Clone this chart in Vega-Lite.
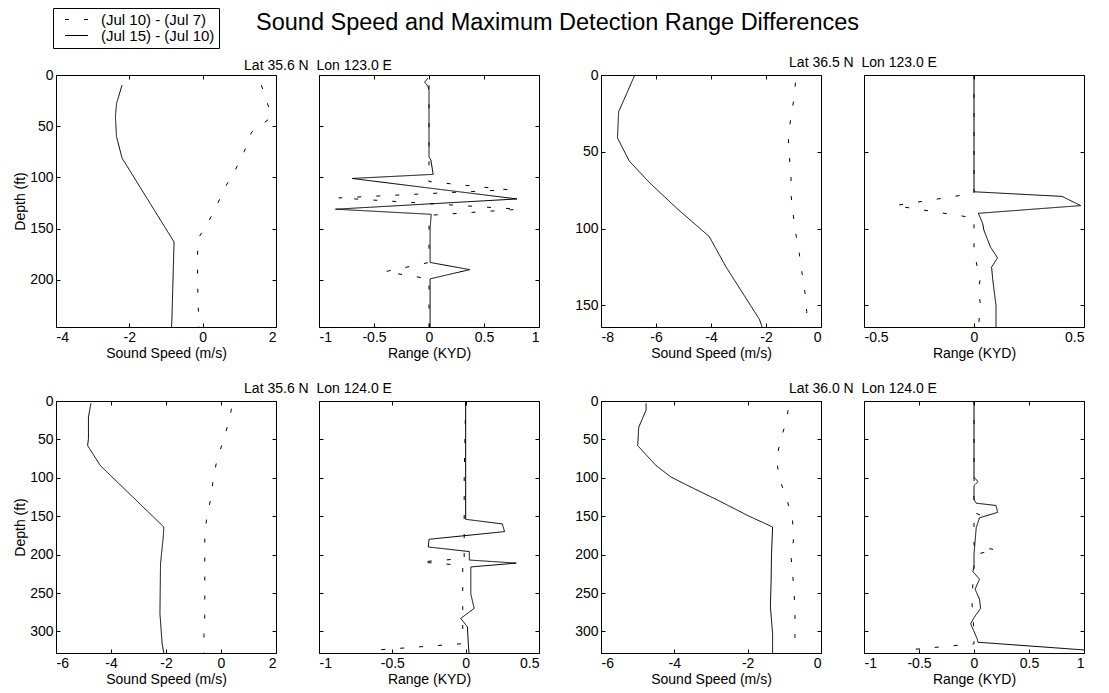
{
  "$schema": "https://vega.github.io/schema/vega-lite/v6.json",
  "autosize": {"type": "pad"},
  "padding": {"left": 13, "top": 7, "right": 5, "bottom": 5},
  "background": "white",
  "config": {
    "font": "Liberation Sans",
    "view": {"stroke": "black", "strokeWidth": 1},
    "axis": {"domain": false, "grid": false, "ticks": true, "tickSize": -4, "tickColor": "black", "labelColor": "black", "labelFontSize": 14, "labelPadding": 7, "titleFontSize": 14, "titleFontWeight": "normal", "titleColor": "black", "titlePadding": 2, "labelExpr": "'' + datum.value"},
    "title": {"fontWeight": "normal", "color": "black"}
  },
  "title": {"text": "Sound Speed and Maximum Detection Range Differences", "anchor": "start", "frame": "group", "dx": 200, "dy": 27, "fontSize": 23.5, "fontWeight": "normal", "offset": 0},
  "datasets": {
    "d": [
      {"p":1,"s":"B","v":-2.20,"d":10},{"p":1,"s":"B","v":-2.35,"d":28},{"p":1,"s":"B","v":-2.38,"d":41},{"p":1,"s":"B","v":-2.35,"d":60},{"p":1,"s":"B","v":-2.20,"d":81},{"p":1,"s":"B","v":-0.78,"d":163},{"p":1,"s":"B","v":-0.80,"d":188},{"p":1,"s":"B","v":-0.84,"d":240},{"p":1,"s":"B","v":-0.85,"d":246},
      {"p":1,"s":"A","v":1.60,"d":10},{"p":1,"s":"A","v":1.72,"d":22},{"p":1,"s":"A","v":1.88,"d":41},{"p":1,"s":"A","v":1.33,"d":56},{"p":1,"s":"A","v":1.13,"d":75},{"p":1,"s":"A","v":0.90,"d":92},{"p":1,"s":"A","v":0.64,"d":108},{"p":1,"s":"A","v":0.40,"d":126},{"p":1,"s":"A","v":0.15,"d":144},{"p":1,"s":"A","v":-0.13,"d":160},{"p":1,"s":"A","v":-0.14,"d":178},{"p":1,"s":"A","v":-0.14,"d":190},{"p":1,"s":"A","v":-0.13,"d":217},{"p":1,"s":"A","v":-0.11,"d":237},{"p":1,"s":"A","v":-0.10,"d":246},
      {"p":2,"s":"B","v":-0.01,"d":3},{"p":2,"s":"B","v":-0.04,"d":7},{"p":2,"s":"B","v":-0.01,"d":11},{"p":2,"s":"B","v":0,"d":15},{"p":2,"s":"B","v":0,"d":80},{"p":2,"s":"B","v":0.017,"d":83},{"p":2,"s":"B","v":0.038,"d":97},{"p":2,"s":"B","v":-0.70,"d":101},{"p":2,"s":"B","v":0.80,"d":121},{"p":2,"s":"B","v":-0.85,"d":131},{"p":2,"s":"B","v":0.02,"d":136},{"p":2,"s":"B","v":0.01,"d":150},{"p":2,"s":"B","v":0.01,"d":183},{"p":2,"s":"B","v":0.37,"d":190},{"p":2,"s":"B","v":0.01,"d":199},{"p":2,"s":"B","v":0.01,"d":246},
      {"p":2,"s":"A","v":0,"d":10},{"p":2,"s":"A","v":0,"d":104},{"p":2,"s":"A","v":0.72,"d":112},{"p":2,"s":"A","v":-0.82,"d":120},{"p":2,"s":"A","v":0.82,"d":131},{"p":2,"s":"A","v":0,"d":137},{"p":2,"s":"A","v":0,"d":183},{"p":2,"s":"A","v":-0.40,"d":192},{"p":2,"s":"A","v":0,"d":199},{"p":2,"s":"A","v":0,"d":246},
      {"p":3,"s":"B","v":-6.77,"d":0},{"p":3,"s":"B","v":-7.36,"d":24},{"p":3,"s":"B","v":-7.40,"d":41},{"p":3,"s":"B","v":-6.97,"d":56},{"p":3,"s":"B","v":-6.24,"d":70},{"p":3,"s":"B","v":-5.23,"d":87},{"p":3,"s":"B","v":-4.07,"d":105},{"p":3,"s":"B","v":-3.45,"d":125},{"p":3,"s":"B","v":-2.24,"d":159},{"p":3,"s":"B","v":-2.14,"d":164},
      {"p":3,"s":"A","v":-0.93,"d":5},{"p":3,"s":"A","v":-0.97,"d":14},{"p":3,"s":"A","v":-1.09,"d":27},{"p":3,"s":"A","v":-1.19,"d":40},{"p":3,"s":"A","v":-1.15,"d":53},{"p":3,"s":"A","v":-1.09,"d":66},{"p":3,"s":"A","v":-1.09,"d":78},{"p":3,"s":"A","v":-1.01,"d":91},{"p":3,"s":"A","v":-0.91,"d":104},{"p":3,"s":"A","v":-0.79,"d":116},{"p":3,"s":"A","v":-0.69,"d":129},{"p":3,"s":"A","v":-0.58,"d":142},{"p":3,"s":"A","v":-0.52,"d":154},{"p":3,"s":"A","v":-0.50,"d":164},
      {"p":4,"s":"B","v":0,"d":0},{"p":4,"s":"B","v":0,"d":76},{"p":4,"s":"B","v":0.40,"d":79},{"p":4,"s":"B","v":0.485,"d":85},{"p":4,"s":"B","v":0.02,"d":90},{"p":4,"s":"B","v":0.04,"d":97},{"p":4,"s":"B","v":0.045,"d":101},{"p":4,"s":"B","v":0.075,"d":112},{"p":4,"s":"B","v":0.107,"d":119},{"p":4,"s":"B","v":0.08,"d":125},{"p":4,"s":"B","v":0.085,"d":133},{"p":4,"s":"B","v":0.10,"d":150},{"p":4,"s":"B","v":0.10,"d":164},
      {"p":4,"s":"A","v":0,"d":0},{"p":4,"s":"A","v":0,"d":77},{"p":4,"s":"A","v":-0.36,"d":85},{"p":4,"s":"A","v":0,"d":93},{"p":4,"s":"A","v":0,"d":115},{"p":4,"s":"A","v":0.015,"d":125},{"p":4,"s":"A","v":0.03,"d":131},{"p":4,"s":"A","v":0.02,"d":140},{"p":4,"s":"A","v":0.03,"d":150},{"p":4,"s":"A","v":0.02,"d":164},
      {"p":5,"s":"B","v":-4.73,"d":3},{"p":5,"s":"B","v":-4.82,"d":21},{"p":5,"s":"B","v":-4.82,"d":49},{"p":5,"s":"B","v":-4.85,"d":58},{"p":5,"s":"B","v":-4.39,"d":84},{"p":5,"s":"B","v":-2.08,"d":164},{"p":5,"s":"B","v":-2.10,"d":177},{"p":5,"s":"B","v":-2.20,"d":212},{"p":5,"s":"B","v":-2.22,"d":277},{"p":5,"s":"B","v":-2.14,"d":316},{"p":5,"s":"B","v":-2.08,"d":328},
      {"p":5,"s":"A","v":0.38,"d":10},{"p":5,"s":"A","v":0.30,"d":25},{"p":5,"s":"A","v":0.09,"d":51},{"p":5,"s":"A","v":-0.15,"d":77},{"p":5,"s":"A","v":-0.28,"d":101},{"p":5,"s":"A","v":-0.37,"d":127},{"p":5,"s":"A","v":-0.52,"d":151},{"p":5,"s":"A","v":-0.59,"d":177},{"p":5,"s":"A","v":-0.59,"d":201},{"p":5,"s":"A","v":-0.59,"d":229},{"p":5,"s":"A","v":-0.59,"d":255},{"p":5,"s":"A","v":-0.59,"d":279},{"p":5,"s":"A","v":-0.62,"d":305},{"p":5,"s":"A","v":-0.62,"d":328},
      {"p":6,"s":"B","v":0,"d":0},{"p":6,"s":"B","v":0,"d":154},{"p":6,"s":"B","v":0.25,"d":160},{"p":6,"s":"B","v":0.265,"d":170},{"p":6,"s":"B","v":-0.25,"d":180},{"p":6,"s":"B","v":-0.255,"d":190},{"p":6,"s":"B","v":0.025,"d":196},{"p":6,"s":"B","v":0.025,"d":207},{"p":6,"s":"B","v":0.345,"d":211},{"p":6,"s":"B","v":0.035,"d":216},{"p":6,"s":"B","v":0.035,"d":251},{"p":6,"s":"B","v":0.058,"d":270},{"p":6,"s":"B","v":-0.034,"d":283},{"p":6,"s":"B","v":0.012,"d":294},{"p":6,"s":"B","v":0.019,"d":320},{"p":6,"s":"B","v":0.023,"d":328},
      {"p":6,"s":"A","v":0,"d":0},{"p":6,"s":"A","v":-0.01,"d":100},{"p":6,"s":"A","v":-0.01,"d":205},{"p":6,"s":"A","v":-0.31,"d":209.5},{"p":6,"s":"A","v":-0.02,"d":214},{"p":6,"s":"A","v":-0.02,"d":300},{"p":6,"s":"A","v":-0.03,"d":316},{"p":6,"s":"A","v":-0.60,"d":324},{"p":6,"s":"A","v":-0.65,"d":328},
      {"p":7,"s":"B","v":-4.77,"d":3},{"p":7,"s":"B","v":-4.77,"d":12},{"p":7,"s":"B","v":-4.97,"d":34},{"p":7,"s":"B","v":-5.00,"d":58},{"p":7,"s":"B","v":-4.50,"d":84},{"p":7,"s":"B","v":-4.09,"d":99},{"p":7,"s":"B","v":-3.55,"d":112},{"p":7,"s":"B","v":-2.82,"d":129},{"p":7,"s":"B","v":-2.00,"d":149},{"p":7,"s":"B","v":-1.32,"d":164},{"p":7,"s":"B","v":-1.35,"d":200},{"p":7,"s":"B","v":-1.36,"d":233},{"p":7,"s":"B","v":-1.38,"d":268},{"p":7,"s":"B","v":-1.32,"d":303},{"p":7,"s":"B","v":-1.32,"d":328},
      {"p":7,"s":"A","v":-0.90,"d":12},{"p":7,"s":"A","v":-0.93,"d":25},{"p":7,"s":"A","v":-1.11,"d":51},{"p":7,"s":"A","v":-1.21,"d":76},{"p":7,"s":"A","v":-1.14,"d":101},{"p":7,"s":"A","v":-0.95,"d":125},{"p":7,"s":"A","v":-0.79,"d":151},{"p":7,"s":"A","v":-0.73,"d":175},{"p":7,"s":"A","v":-0.82,"d":201},{"p":7,"s":"A","v":-0.77,"d":227},{"p":7,"s":"A","v":-0.73,"d":253},{"p":7,"s":"A","v":-0.71,"d":279},{"p":7,"s":"A","v":-0.71,"d":305},{"p":7,"s":"A","v":-0.71,"d":328},
      {"p":8,"s":"B","v":0,"d":0},{"p":8,"s":"B","v":0,"d":99},{"p":8,"s":"B","v":0.036,"d":105},{"p":8,"s":"B","v":0,"d":110},{"p":8,"s":"B","v":0,"d":128},{"p":8,"s":"B","v":0.02,"d":133},{"p":8,"s":"B","v":0.20,"d":136},{"p":8,"s":"B","v":0.215,"d":145},{"p":8,"s":"B","v":0.05,"d":152},{"p":8,"s":"B","v":0.02,"d":165},{"p":8,"s":"B","v":0,"d":200},{"p":8,"s":"B","v":0,"d":215},{"p":8,"s":"B","v":-0.01,"d":222},{"p":8,"s":"B","v":0.05,"d":232},{"p":8,"s":"B","v":0.01,"d":245},{"p":8,"s":"B","v":0.05,"d":258},{"p":8,"s":"B","v":0.06,"d":270},{"p":8,"s":"B","v":0,"d":282},{"p":8,"s":"B","v":-0.03,"d":290},{"p":8,"s":"B","v":0,"d":300},{"p":8,"s":"B","v":0.03,"d":310},{"p":8,"s":"B","v":0.036,"d":314},{"p":8,"s":"B","v":1.0,"d":324},
      {"p":8,"s":"A","v":0,"d":0},{"p":8,"s":"A","v":0,"d":145},{"p":8,"s":"A","v":0.08,"d":150},{"p":8,"s":"A","v":0,"d":156},{"p":8,"s":"A","v":0,"d":188},{"p":8,"s":"A","v":0.2,"d":194},{"p":8,"s":"A","v":0.03,"d":199},{"p":8,"s":"A","v":0,"d":215},{"p":8,"s":"A","v":-0.02,"d":260},{"p":8,"s":"A","v":0,"d":300},{"p":8,"s":"A","v":0,"d":316},{"p":8,"s":"A","v":-0.6,"d":324}
    ]
  },
  "data": {"name": "d"},
  "columns": 7,
  "spacing": {"row": 74, "column": 0},
  "bounds": "flush",
  "resolve": {"scale": {"strokeDash": "independent"}, "legend": {"strokeDash": "independent"}},
  "concat": [
    {
      "width": 220, "height": 252,
      "transform": [{"filter": "datum.p == 1"}],
      "layer": [
        {"mark": {"type": "line", "clip": true, "color": "black", "strokeWidth": 1},
         "encoding": {
           "x": {"field": "v", "type": "quantitative", "scale": {"domain": [-4, 2], "nice": false, "zero": false}, "axis": {"values": [-4, -2, 0, 2], "title": "Sound Speed (m/s)"}},
           "y": {"field": "d", "type": "quantitative", "scale": {"domain": [0, 246], "reverse": true, "nice": false, "zero": false}, "axis": {"values": [0, 50, 100, 150, 200], "title": "Depth (ft)"}},
           "strokeDash": {"field": "s", "type": "nominal", "scale": {"domain": ["A", "B"], "range": [[4, 15], [1, 0]]},
             "legend": {"orient": "none", "legendX": -3, "legendY": -67, "title": null, "strokeColor": "black", "fillColor": "white", "padding": 4, "labelFontSize": 15, "labelColor": "black", "labelLimit": 300, "labelOffset": 17, "symbolOffset": 12, "symbolType": "M-2.3,0H2.3", "symbolSize": 100, "symbolStrokeWidth": 1, "symbolStrokeColor": "black", "rowPadding": 0,
               "labelExpr": "datum.value == 'A' ? '(Jul 10) - (Jul 7)' : '(Jul 15) - (Jul 10)'"}},
           "order": {"field": "d", "type": "quantitative"}
         }},
        {"mark": {"type": "point", "opacity": 0},
         "encoding": {
           "x": {"field": "v", "type": "quantitative", "axis": {"orient": "top", "values": [-4, -2, 0, 2], "labels": false, "title": null}},
           "y": {"field": "d", "type": "quantitative", "axis": {"orient": "right", "values": [0, 50, 100, 150, 200], "labels": false, "title": null}}
         }}
      ],
      "resolve": {"axis": {"x": "independent", "y": "independent"}}
    },
    {"width": 43, "height": 252, "transform": [{"filter": "false"}], "mark": {"type": "point", "opacity": 0}, "view": {"stroke": null}},
    {
      "width": 220, "height": 252,
      "title": {"text": "Lat 35.6 N\u00a0\u00a0Lon 123.0 E", "anchor": "middle", "frame": "group", "dx": -111, "fontSize": 14, "offset": 2},
      "transform": [{"filter": "datum.p == 2"}],
      "layer": [
        {"mark": {"type": "line", "clip": true, "color": "black", "strokeWidth": 1},
         "encoding": {
           "x": {"field": "v", "type": "quantitative", "scale": {"domain": [-1, 1], "nice": false, "zero": false}, "axis": {"values": [-1, -0.5, 0, 0.5, 1], "title": "Range (KYD)"}},
           "y": {"field": "d", "type": "quantitative", "scale": {"domain": [0, 246], "reverse": true, "nice": false, "zero": false}, "axis": {"values": [0, 50, 100, 150, 200], "labels": false, "title": null}},
           "strokeDash": {"field": "s", "type": "nominal", "scale": {"domain": ["A", "B"], "range": [[4, 15], [1, 0]]}, "legend": null},
           "order": {"field": "d", "type": "quantitative"}
         }},
        {"mark": {"type": "point", "opacity": 0},
         "encoding": {
           "x": {"field": "v", "type": "quantitative", "axis": {"orient": "top", "values": [-1, -0.5, 0, 0.5, 1], "labels": false, "title": null}},
           "y": {"field": "d", "type": "quantitative", "axis": {"orient": "right", "values": [0, 50, 100, 150, 200], "labels": false, "title": null}}
         }}
      ],
      "resolve": {"axis": {"x": "independent", "y": "independent"}}
    },
    {"width": 62, "height": 252, "transform": [{"filter": "false"}], "mark": {"type": "point", "opacity": 0}, "view": {"stroke": null}},
    {
      "width": 220, "height": 252,
      "transform": [{"filter": "datum.p == 3"}],
      "layer": [
        {"mark": {"type": "line", "clip": true, "color": "black", "strokeWidth": 1},
         "encoding": {
           "x": {"field": "v", "type": "quantitative", "scale": {"domain": [-8, 0], "nice": false, "zero": false}, "axis": {"values": [-8, -6, -4, -2, 0], "title": "Sound Speed (m/s)"}},
           "y": {"field": "d", "type": "quantitative", "scale": {"domain": [0, 164], "reverse": true, "nice": false, "zero": false}, "axis": {"values": [0, 50, 100, 150], "title": null}},
           "strokeDash": {"field": "s", "type": "nominal", "scale": {"domain": ["A", "B"], "range": [[4, 15], [1, 0]]}, "legend": null},
           "order": {"field": "d", "type": "quantitative"}
         }},
        {"mark": {"type": "point", "opacity": 0},
         "encoding": {
           "x": {"field": "v", "type": "quantitative", "axis": {"orient": "top", "values": [-8, -6, -4, -2, 0], "labels": false, "title": null}},
           "y": {"field": "d", "type": "quantitative", "axis": {"orient": "right", "values": [0, 50, 100, 150], "labels": false, "title": null}}
         }}
      ],
      "resolve": {"axis": {"x": "independent", "y": "independent"}}
    },
    {"width": 43, "height": 252, "transform": [{"filter": "false"}], "mark": {"type": "point", "opacity": 0}, "view": {"stroke": null}},
    {
      "width": 220, "height": 252,
      "title": {"text": "Lat 36.5 N\u00a0\u00a0Lon 123.0 E", "anchor": "middle", "frame": "group", "dx": -111, "fontSize": 14, "offset": 2},
      "transform": [{"filter": "datum.p == 4"}],
      "layer": [
        {"mark": {"type": "line", "clip": true, "color": "black", "strokeWidth": 1},
         "encoding": {
           "x": {"field": "v", "type": "quantitative", "scale": {"domain": [-0.5, 0.5], "nice": false, "zero": false}, "axis": {"values": [-0.5, 0, 0.5], "title": "Range (KYD)"}},
           "y": {"field": "d", "type": "quantitative", "scale": {"domain": [0, 164], "reverse": true, "nice": false, "zero": false}, "axis": {"values": [0, 50, 100, 150], "labels": false, "title": null}},
           "strokeDash": {"field": "s", "type": "nominal", "scale": {"domain": ["A", "B"], "range": [[4, 15], [1, 0]]}, "legend": null},
           "order": {"field": "d", "type": "quantitative"}
         }},
        {"mark": {"type": "point", "opacity": 0},
         "encoding": {
           "x": {"field": "v", "type": "quantitative", "axis": {"orient": "top", "values": [-0.5, 0, 0.5], "labels": false, "title": null}},
           "y": {"field": "d", "type": "quantitative", "axis": {"orient": "right", "values": [0, 50, 100, 150], "labels": false, "title": null}}
         }}
      ],
      "resolve": {"axis": {"x": "independent", "y": "independent"}}
    },
    {
      "width": 220, "height": 252,
      "transform": [{"filter": "datum.p == 5"}],
      "layer": [
        {"mark": {"type": "line", "clip": true, "color": "black", "strokeWidth": 1},
         "encoding": {
           "x": {"field": "v", "type": "quantitative", "scale": {"domain": [-6, 2], "nice": false, "zero": false}, "axis": {"values": [-6, -4, -2, 0, 2], "title": "Sound Speed (m/s)"}},
           "y": {"field": "d", "type": "quantitative", "scale": {"domain": [0, 328], "reverse": true, "nice": false, "zero": false}, "axis": {"values": [0, 50, 100, 150, 200, 250, 300], "title": "Depth (ft)"}},
           "strokeDash": {"field": "s", "type": "nominal", "scale": {"domain": ["A", "B"], "range": [[4, 15], [1, 0]]}, "legend": null},
           "order": {"field": "d", "type": "quantitative"}
         }},
        {"mark": {"type": "point", "opacity": 0},
         "encoding": {
           "x": {"field": "v", "type": "quantitative", "axis": {"orient": "top", "values": [-6, -4, -2, 0, 2], "labels": false, "title": null}},
           "y": {"field": "d", "type": "quantitative", "axis": {"orient": "right", "values": [0, 50, 100, 150, 200, 250, 300], "labels": false, "title": null}}
         }}
      ],
      "resolve": {"axis": {"x": "independent", "y": "independent"}}
    },
    {"width": 43, "height": 252, "transform": [{"filter": "false"}], "mark": {"type": "point", "opacity": 0}, "view": {"stroke": null}},
    {
      "width": 220, "height": 252,
      "title": {"text": "Lat 35.6 N\u00a0\u00a0Lon 124.0 E", "anchor": "middle", "frame": "group", "dx": -111, "fontSize": 14, "offset": 2},
      "transform": [{"filter": "datum.p == 6"}],
      "layer": [
        {"mark": {"type": "line", "clip": true, "color": "black", "strokeWidth": 1},
         "encoding": {
           "x": {"field": "v", "type": "quantitative", "scale": {"domain": [-1, 0.5], "nice": false, "zero": false}, "axis": {"values": [-1, -0.5, 0, 0.5], "title": "Range (KYD)"}},
           "y": {"field": "d", "type": "quantitative", "scale": {"domain": [0, 328], "reverse": true, "nice": false, "zero": false}, "axis": {"values": [0, 50, 100, 150, 200, 250, 300], "labels": false, "title": null}},
           "strokeDash": {"field": "s", "type": "nominal", "scale": {"domain": ["A", "B"], "range": [[4, 15], [1, 0]]}, "legend": null},
           "order": {"field": "d", "type": "quantitative"}
         }},
        {"mark": {"type": "point", "opacity": 0},
         "encoding": {
           "x": {"field": "v", "type": "quantitative", "axis": {"orient": "top", "values": [-1, -0.5, 0, 0.5], "labels": false, "title": null}},
           "y": {"field": "d", "type": "quantitative", "axis": {"orient": "right", "values": [0, 50, 100, 150, 200, 250, 300], "labels": false, "title": null}}
         }}
      ],
      "resolve": {"axis": {"x": "independent", "y": "independent"}}
    },
    {"width": 62, "height": 252, "transform": [{"filter": "false"}], "mark": {"type": "point", "opacity": 0}, "view": {"stroke": null}},
    {
      "width": 220, "height": 252,
      "transform": [{"filter": "datum.p == 7"}],
      "layer": [
        {"mark": {"type": "line", "clip": true, "color": "black", "strokeWidth": 1},
         "encoding": {
           "x": {"field": "v", "type": "quantitative", "scale": {"domain": [-6, 0], "nice": false, "zero": false}, "axis": {"values": [-6, -4, -2, 0], "title": "Sound Speed (m/s)"}},
           "y": {"field": "d", "type": "quantitative", "scale": {"domain": [0, 328], "reverse": true, "nice": false, "zero": false}, "axis": {"values": [0, 50, 100, 150, 200, 250, 300], "title": null}},
           "strokeDash": {"field": "s", "type": "nominal", "scale": {"domain": ["A", "B"], "range": [[4, 15], [1, 0]]}, "legend": null},
           "order": {"field": "d", "type": "quantitative"}
         }},
        {"mark": {"type": "point", "opacity": 0},
         "encoding": {
           "x": {"field": "v", "type": "quantitative", "axis": {"orient": "top", "values": [-6, -4, -2, 0], "labels": false, "title": null}},
           "y": {"field": "d", "type": "quantitative", "axis": {"orient": "right", "values": [0, 50, 100, 150, 200, 250, 300], "labels": false, "title": null}}
         }}
      ],
      "resolve": {"axis": {"x": "independent", "y": "independent"}}
    },
    {"width": 43, "height": 252, "transform": [{"filter": "false"}], "mark": {"type": "point", "opacity": 0}, "view": {"stroke": null}},
    {
      "width": 220, "height": 252,
      "title": {"text": "Lat 36.0 N\u00a0\u00a0Lon 124.0 E", "anchor": "middle", "frame": "group", "dx": -111, "fontSize": 14, "offset": 2},
      "transform": [{"filter": "datum.p == 8"}],
      "layer": [
        {"mark": {"type": "line", "clip": true, "color": "black", "strokeWidth": 1},
         "encoding": {
           "x": {"field": "v", "type": "quantitative", "scale": {"domain": [-1, 1], "nice": false, "zero": false}, "axis": {"values": [-1, -0.5, 0, 0.5, 1], "title": "Range (KYD)"}},
           "y": {"field": "d", "type": "quantitative", "scale": {"domain": [0, 328], "reverse": true, "nice": false, "zero": false}, "axis": {"values": [0, 50, 100, 150, 200, 250, 300], "labels": false, "title": null}},
           "strokeDash": {"field": "s", "type": "nominal", "scale": {"domain": ["A", "B"], "range": [[4, 15], [1, 0]]}, "legend": null},
           "order": {"field": "d", "type": "quantitative"}
         }},
        {"mark": {"type": "point", "opacity": 0},
         "encoding": {
           "x": {"field": "v", "type": "quantitative", "axis": {"orient": "top", "values": [-1, -0.5, 0, 0.5, 1], "labels": false, "title": null}},
           "y": {"field": "d", "type": "quantitative", "axis": {"orient": "right", "values": [0, 50, 100, 150, 200, 250, 300], "labels": false, "title": null}}
         }}
      ],
      "resolve": {"axis": {"x": "independent", "y": "independent"}}
    }
  ]
}
